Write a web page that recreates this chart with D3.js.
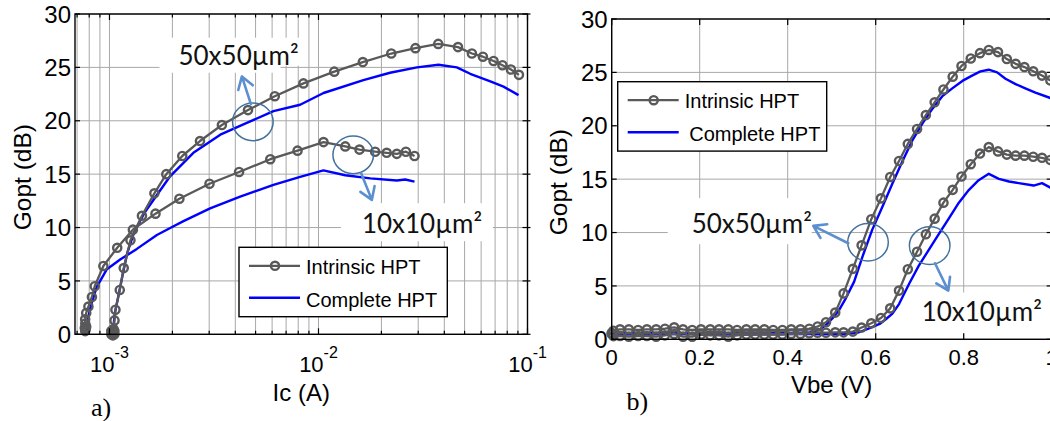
<!DOCTYPE html>
<html><head><meta charset="utf-8">
<script src="https://cdn.jsdelivr.net/npm/d3@7"></script>
<style>body{margin:0;background:#fff}svg{display:block}</style>
</head><body>
<svg id="c" width="1050" height="421"></svg>
<script>
// ---------- DATA ----------
const gTicks = [0, 5, 10, 15, 20, 25, 30];
const icTicks = [1e-3, 1e-2, 1e-1];
const icTickExp = ["-3", "-2", "-1"];
const vbeTicks = [0, 0.2, 0.4, 0.6, 0.8, 1];
const vbeTickLabels = ["0", "0.2", "0.4", "0.6", "0.8", "1"];
const icDomain = [6.84e-4, 0.1];
const seriesNames = ["Intrinsic HPT", "Complete HPT"];
const panelLabels = ["a)", "b)"];
const axisLabels = ["Ic (A)", "Vbe (V)", "Gopt (dB)"];
const deviceLabels = ["50x50\u00b5m\u00b2", "10x10\u00b5m\u00b2"];

// Panel a) : Gopt vs Ic
const ic50Intr = [1.038e-3,1.02e-3,1.056e-3,1.02e-3,1.056e-3,1.038e-3,1.038e-3,1.03e-3,1.046e-3,1.045e-3,1.057e-3,1.068e-3,1.12e-3,1.17e-3,1.26e-3,1.43e-3,1.64e-3,1.87e-3,2.23e-3,2.71e-3,3.45e-3,4.60e-3,6.18e-3,8.47e-3,1.19e-2,1.63e-2,2.23e-2,2.91e-2,3.74e-2,4.65e-2,5.42e-2,6.12e-2,6.88e-2,7.59e-2,8.33e-2,9.10e-2];
const g50IntrIc = [0.15,0.0,0.0,0.3,0.3,-0.1,0.4,0.15,0.15,0.5,1.3,2.3,4.15,6.2,8.8,11.1,13.2,15.0,16.7,18.1,19.6,21.0,22.3,23.5,24.6,25.5,26.3,26.8,27.2,26.9,26.3,26.0,25.6,25.2,24.8,24.3];
const ic10Intr = [7.65e-4,7.7e-4,7.62e-4,7.74e-4,7.66e-4,7.65e-4,7.74e-4,7.93e-4,8.24e-4,8.5e-4,9.35e-4,1.089e-3,1.294e-3,1.66e-3,2.16e-3,3.01e-3,4.17e-3,5.88e-3,7.94e-3,1.057e-2,1.343e-2,1.571e-2,1.867e-2,2.12e-2,2.37e-2,2.62e-2,2.88e-2];
const g10IntrIc = [0.3,0.5,0.6,0.7,1.0,1.4,2.0,2.6,3.5,4.5,6.4,8.1,9.8,11.3,12.7,14.1,15.2,16.4,17.2,18.0,17.6,17.3,17.1,17.0,16.9,17.1,16.7];
const ic50Comp = [1.041e-3,1.061e-3,1.101e-3,1.151e-3,1.216e-3,1.309e-3,1.462e-3,1.626e-3,1.95e-3,2.52e-3,3.39e-3,4.54e-3,6.09e-3,8.17e-3,1.057e-2,1.64e-2,2.20e-2,2.96e-2,3.75e-2,4.59e-2,5.32e-2,6.64e-2,7.68e-2,9.06e-2];
const g50CompIc = [0.4,2.0,3.5,5.4,7.6,9.5,11.3,12.6,14.8,17.0,18.7,19.8,20.9,21.5,22.6,23.8,24.5,25.0,25.25,25.0,24.4,23.7,23.2,22.4];
const ic10Comp = [7.80e-4,7.91e-4,8.24e-4,8.71e-4,9.03e-4,9.72e-4,1.125e-3,1.352e-3,1.686e-3,1.973e-3,2.26e-3,3.03e-3,4.22e-3,6.09e-3,8.17e-3,1.056e-2,1.343e-2,1.77e-2,2.37e-2,2.60e-2,2.88e-2];
const g10CompIc = [0.4,1.6,3.0,4.5,5.0,6.1,7.0,8.0,9.3,10.0,10.6,11.8,12.9,14.0,14.75,15.35,14.9,14.6,14.4,14.5,14.3];

// Panel b) : Gopt vs Vbe
const vbeIntr = [0,0.004,0.019,0.039,0.060,0.080,0.101,0.121,0.142,0.162,0.183,0.203,0.224,0.244,0.265,0.285,0.306,0.326,0.347,0.367,0.388,0.408,0.429,0.449,0.468,0.487,0.508,0.527,0.548,0.568,0.590,0.612,0.633,0.653,0.673,0.694,0.714,0.734,0.754,0.775,0.795,0.816,0.837,0.857,0.878,0.898,0.918,0.938,0.958,0.978,0.997];
const g50IntrV = [0.6,0.8,0.93,0.93,0.87,0.93,0.93,0.99,1.12,0.93,0.87,0.93,0.93,0.93,0.93,0.87,0.93,0.93,0.93,0.87,0.87,0.93,0.93,0.99,1.2,1.6,2.5,4.3,6.6,8.8,11.25,13.2,15.2,16.7,18.3,19.7,21.0,22.2,23.4,24.6,25.6,26.3,26.8,27.1,26.9,26.25,25.8,25.5,25.1,24.7,24.25];
const g10IntrV = [0.5,0.3,0.31,0.25,0.31,0.31,0.25,0.37,0.5,0.25,0.25,0.44,0.37,0.37,0.25,0.37,0.44,0.44,0.44,0.44,0.44,0.5,0.5,0.56,0.62,0.62,0.65,0.65,0.72,1.1,1.5,2.0,2.9,4.56,6.56,8.2,9.84,11.3,12.8,14.0,15.25,16.4,17.4,18.0,17.6,17.3,17.2,17.2,17.1,17.0,16.8];
const vbe50Comp = [0,0.10,0.13,0.14,0.16,0.30,0.40,0.45,0.471,0.487,0.502,0.517,0.532,0.551,0.570,0.592,0.615,0.638,0.661,0.683,0.706,0.729,0.751,0.774,0.797,0.819,0.838,0.857,0.876,0.895,0.918,0.940,0.963,0.997];
const g50CompV = [0.55,0.6,0.62,0.75,0.55,0.58,0.6,0.65,0.88,1.34,1.97,2.75,3.84,5.4,7.75,10.25,12.4,14.6,16.7,18.6,20.2,21.6,22.75,23.5,24.2,24.7,25.1,25.25,25.0,24.4,23.9,23.5,23.1,22.6];
const vbe10Comp = [0,0.15,0.30,0.45,0.52,0.547,0.562,0.585,0.609,0.623,0.638,0.653,0.676,0.698,0.721,0.744,0.766,0.789,0.812,0.834,0.857,0.880,0.903,0.925,0.959,0.978,0.997];
const g10CompV = [0.45,0.5,0.45,0.5,0.5,0.56,0.66,1.03,1.44,1.875,2.4,3.3,5.2,6.9,8.4,9.9,11.3,12.8,14.0,14.9,15.5,15.03,14.78,14.63,14.4,14.63,14.2];

// annotation anchors (data units)
const annA = [
  {label: deviceLabels[0], cx: 4.853e-3, cy: 19.9, ax0: 4.75e-3, ay0: 21.56, ax1: 4.30e-3, ay1: 24.15, tx: 2.138e-3, ty: 25.25, box: [-19, 102, -27, 8, 123, 1]},
  {label: deviceLabels[1], cx: 1.466e-2, cy: 16.81, ax0: 1.60e-2, ay0: 15.09, ax1: 1.80e-2, ay1: 12.59, tx: 1.613e-2, ty: 9.47, box: [-21, 131, -30, 8, 131, 8]}
];
const annB = [
  {label: deviceLabels[0], cx: 0.5825, cy: 9.09, ax0: 0.5377, ay0: 9.0, ax1: 0.4582, ay1: 10.62, tx: 0.1818, ty: 9.94, box: [-24, 120, -35, 11, 120, 11]},
  {label: deviceLabels[1], cx: 0.7227, cy: 8.77, ax0: 0.7348, ay0: 7.12, ax1: 0.765, ay1: 4.56, tx: 0.7045, ty: 1.76, box: [-7, 130, -28, 13, 130, 13]}
];

// ---------- STYLE ----------
const SANS = "'Liberation Sans', Arial, Helvetica, sans-serif";
const SERIF = "'Liberation Serif', 'Times New Roman', serif";
const ANNFONT = "Lato, 'Open Sans', sans-serif";
const GRAY = "#595959", BLUE = "#0000ff", GRID = "#a8a8a8";
const ELL = "#41719c", ARR = "#5b8fd0";
const MR = 4.1, MSW = 2.4;

const svg = d3.select("#c");
svg.append("rect").attr("width", 1050).attr("height", 421).attr("fill", "#fff");

function panel(o) {
  const g = svg.append("g");
  const {x, y} = o;
  const [x0, x1] = x.range(), [y0, y1] = y.range();
  // grid
  const grid = g.append("g").attr("stroke", GRID).attr("stroke-width", 1);
  grid.selectAll("line.v").data(o.vgrid).join("line")
    .attr("x1", d => x(d)).attr("x2", d => x(d)).attr("y1", y0).attr("y2", y1);
  grid.selectAll("line.h").data(gTicks).join("line")
    .attr("x1", x0).attr("x2", x1).attr("y1", d => y(d)).attr("y2", d => y(d));
  // white boxes behind annotation text
  o.ann.forEach(a => {
    const tx = x(a.tx), ty = y(a.ty), b = a.box;
    g.append("rect").attr("x", tx + b[0]).attr("y", ty + b[2]).attr("width", b[1] - b[0]).attr("height", b[3] - b[2]).attr("fill", "#fff");
    g.append("rect").attr("x", tx + b[1]).attr("y", ty + b[2]).attr("width", b[4] - b[1]).attr("height", b[5] - b[2]).attr("fill", "#fff");
  });
  // data
  const line = d3.line().x(d => x(d[0])).y(d => y(d[1]));
  o.comp.forEach(s => {
    g.append("path").datum(d3.zip(s[0], s[1])).attr("d", line)
      .attr("fill", "none").attr("stroke", BLUE).attr("stroke-width", 2.4).attr("stroke-linejoin", "round");
  });
  o.intr.forEach(s => {
    const pts = d3.zip(s[0], s[1]);
    g.append("path").datum(pts).attr("d", line)
      .attr("fill", "none").attr("stroke", GRAY).attr("stroke-width", 2.3).attr("stroke-linejoin", "round");
    g.append("g").selectAll("circle").data(pts).join("circle")
      .attr("cx", d => x(d[0])).attr("cy", d => y(d[1])).attr("r", MR)
      .attr("fill", "none").attr("stroke", GRAY).attr("stroke-width", MSW);
  });
  // annotations
  o.ann.forEach(a => {
    g.append("ellipse").attr("cx", x(a.cx)).attr("cy", y(a.cy)).attr("rx", 20.3).attr("ry", 18.8)
      .attr("fill", "none").attr("stroke", ELL).attr("stroke-width", 1.5);
    const sx = x(a.ax0), sy = y(a.ay0), ex = x(a.ax1), ey = y(a.ay1);
    const ang = Math.atan2(sy - ey, sx - ex), L = 14, da = 33 * Math.PI / 180;
    const path = d3.path();
    path.moveTo(sx, sy); path.lineTo(ex, ey);
    path.moveTo(ex + L * Math.cos(ang + da), ey + L * Math.sin(ang + da));
    path.lineTo(ex, ey);
    path.lineTo(ex + L * Math.cos(ang - da), ey + L * Math.sin(ang - da));
    g.append("path").attr("d", path.toString()).attr("fill", "none").attr("stroke", ARR)
      .attr("stroke-width", 2.6).attr("stroke-linecap", "round").attr("stroke-linejoin", "round");
    g.append("text").attr("x", x(a.tx)).attr("y", y(a.ty)).text(a.label)
      .attr("font-family", ANNFONT).attr("font-size", 26).attr("fill", "#111");
  });
  // border
  g.append("rect").attr("x", x0).attr("y", y1).attr("width", x1 - x0).attr("height", y0 - y1)
    .attr("fill", "none").attr("stroke", "#000").attr("stroke-width", 1.4);
  // ticks (inward, all sides)
  const tk = g.append("g").attr("stroke", "#000").attr("stroke-width", 1.2);
  o.xticks.forEach(t => {
    tk.append("line").attr("x1", x(t.v)).attr("x2", x(t.v)).attr("y1", y0).attr("y2", y0 - t.len);
    tk.append("line").attr("x1", x(t.v)).attr("x2", x(t.v)).attr("y1", y1).attr("y2", y1 + t.len);
  });
  gTicks.forEach(v => {
    tk.append("line").attr("x1", x0).attr("x2", x0 + 5).attr("y1", y(v)).attr("y2", y(v));
    tk.append("line").attr("x1", x1 - 5).attr("x2", x1 + 3).attr("y1", y(v)).attr("y2", y(v));
  });
  // y tick labels
  g.append("g").selectAll("text").data(gTicks).join("text")
    .attr("x", x0 - 4).attr("y", d => y(d)).attr("dy", "0.36em").attr("text-anchor", "end")
    .attr("font-family", SANS).attr("font-size", 24).text(d => d);
  // y axis label
  g.append("text").attr("transform", `translate(${o.ylabX},${(y0 + y1) / 2 + 3}) rotate(-90)`)
    .attr("text-anchor", "middle").attr("dy", "0.36em")
    .attr("font-family", SANS).attr("font-size", 24.5).text(axisLabels[2]);
  // x label
  g.append("text").attr("x", (x0 + x1) / 2).attr("y", o.xlabY).attr("text-anchor", "middle")
    .attr("font-family", SANS).attr("font-size", 24).text(o.xlab);
  // panel label
  g.append("text").attr("x", o.pl[0]).attr("y", o.pl[1])
    .attr("font-family", SERIF).attr("font-size", 26).text(o.plText);
  // legend
  const L = g.append("g").attr("transform", `translate(${o.leg[0]},${o.leg[1]})`);
  L.append("rect").attr("width", o.leg[2]).attr("height", 69.4).attr("fill", "#fff")
    .attr("stroke", "#000").attr("stroke-width", 1.4);
  L.append("line").attr("x1", 10).attr("x2", 61).attr("y1", 18.5).attr("y2", 18.5)
    .attr("stroke", GRAY).attr("stroke-width", 2.3);
  L.append("circle").attr("cx", 36).attr("cy", 18.5).attr("r", MR).attr("fill", "none")
    .attr("stroke", GRAY).attr("stroke-width", MSW);
  L.append("line").attr("x1", 10).attr("x2", 61).attr("y1", 50.5).attr("y2", 50.5)
    .attr("stroke", BLUE).attr("stroke-width", 2.4);
  L.append("text").attr("x", 67).attr("y", 19.5).attr("dy", "0.36em")
    .attr("font-family", SANS).attr("font-size", 20).text(seriesNames[0]);
  L.append("text").attr("x", 67 + o.leg[3]).attr("y", 52.5).attr("dy", "0.36em")
    .attr("font-family", SANS).attr("font-size", 20).text(seriesNames[1]);
  return g;
}

// ----- panel a -----
const xL = d3.scaleLog().domain(icDomain).range([75, 527.5]);
const yL = d3.scaleLinear().domain([0, 30]).range([334.3, 14]);
const logTicks = xL.ticks();
const isDecade = v => Math.abs(Math.log10(v) - Math.round(Math.log10(v))) < 1e-9;
const gA = panel({
  x: xL, y: yL, vgrid: logTicks,
  xticks: logTicks.map(v => ({v, len: isDecade(v) ? 6 : 3.5})),
  intr: [[ic50Intr, g50IntrIc], [ic10Intr, g10IntrIc]],
  comp: [[ic50Comp, g50CompIc], [ic10Comp, g10CompIc]],
  ann: annA, ylabX: 22, xlab: axisLabels[0], xlabY: 401, pl: [91, 416], plText: panelLabels[0],
  leg: [239, 247.3, 208.3, 0]
});
gA.append("g").selectAll("text").data(icTicks).join("text")
  .attr("x", d => xL(d)).attr("y", 371.5).attr("text-anchor", "middle")
  .attr("font-family", SANS).attr("font-size", 22)
  .each(function (d, i) {
    const t = d3.select(this);
    t.append("tspan").text("10");
    t.append("tspan").attr("dy", -14).attr("font-size", 16).text(icTickExp[i]);
  });

// ----- panel b -----
const xR = d3.scaleLinear().domain([0, 1]).range([611.7, 1051.7]);
const yR = d3.scaleLinear().domain([0, 30]).range([339.3, 19]);
const gB = panel({
  x: xR, y: yR, vgrid: vbeTicks,
  xticks: vbeTicks.map(v => ({v, len: 6})),
  intr: [[vbeIntr, g50IntrV], [vbeIntr, g10IntrV]],
  comp: [[vbe50Comp, g50CompV], [vbe10Comp, g10CompV]],
  ann: annB, ylabX: 558, xlab: axisLabels[1], xlabY: 393, pl: [626.5, 410], plText: panelLabels[1],
  leg: [617.7, 81.7, 209, 4.5]
});
gB.append("g").selectAll("text").data(vbeTicks).join("text")
  .attr("x", d => xR(d)).attr("y", 365).attr("text-anchor", "middle")
  .attr("font-family", SANS).attr("font-size", 22).text((d, i) => vbeTickLabels[i]);
</script>
</body></html>
